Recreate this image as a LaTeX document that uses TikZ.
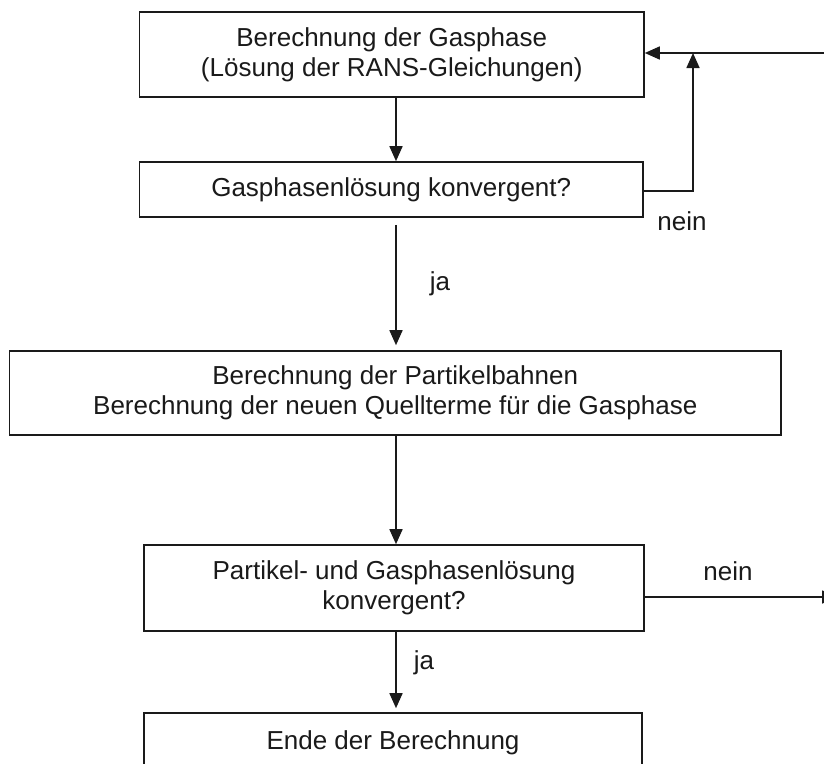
\documentclass[tikz,border=0pt]{standalone}
\usepackage{fontspec}
\setmainfont{Liberation Sans}
\usetikzlibrary{arrows.meta}
\definecolor{ink}{HTML}{1A1A1A}
\begin{document}
\begin{tikzpicture}[x=1pt,y=-1pt,
  box/.style={draw=ink, line width=1.6pt, rectangle, inner sep=0pt, align=center,
    text=ink, font=\fontsize{26}{30}\selectfont},
  arr/.style={draw=ink, line width=1.6pt, -{Triangle[length=15pt,width=13pt]}},
  lbl/.style={text=ink, font=\fontsize{26}{30}\selectfont, inner sep=0pt}]
\clip (0,0) rectangle (824,763);
\fill[white] (0,0) rectangle (824,763);
\coordinate (ax) at (396,0);
\node[box, minimum width=504.5pt, minimum height=85pt] (b1) at (391.75,54.5)
  {Berechnung der Gasphase\\(Lösung der RANS-Gleichungen)};
\node[box, minimum width=503.5pt, minimum height=55pt] (b2) at (391.25,189.5)
  {Gasphasenlösung konvergent?};
\node[box, minimum width=771.5pt, minimum height=84pt] (b3) at (395.25,393)
  {Berechnung der Partikelbahnen\\Berechnung der neuen Quellterme für die Gasphase};
\node[box, minimum width=500pt, minimum height=86pt] (b4) at (394,588)
  {Partikel- und Gasphasenlösung\\konvergent?};
\node[box, minimum width=498pt, minimum height=60pt] (b5) at (393,743)
  {Ende der Berechnung};
\coordinate (jn) at (693,53);
\coordinate (re) at (824,53);
\coordinate (r4) at (837,597);
\draw[arr] (b1.south -| ax) -- (b2.north -| ax);
\draw[arr] ([yshift=-7pt]b2.south -| ax) -- (b3.north -| ax) [shorten >=5pt];
\draw[arr] (b3.south -| ax) -- (b4.north -| ax);
\draw[arr, shorten >=4pt] (b4.south -| ax) -- (b5.north -| ax);
\draw[arr] (re) -- (b1.east |- re);
\draw[arr] (b2.east |- 0,191) -| (jn);
\draw[arr] (b4.east |- r4) -- (r4);
\node[lbl] (n1) at (682,221) {nein};
\node[lbl] (n2) at (728,571) {nein};
\node[lbl] (j1) at (440,284) {ja};
\node[lbl] (j2) at (424,663) {ja};
\end{tikzpicture}
\end{document}
